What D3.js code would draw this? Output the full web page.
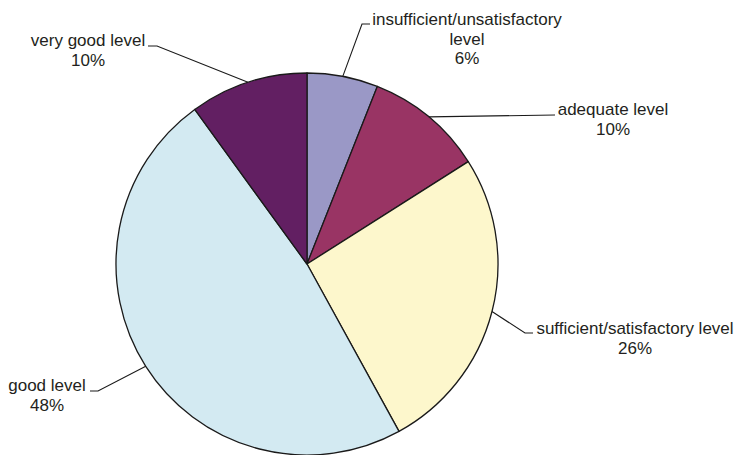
<!DOCTYPE html>
<html>
<head>
<meta charset="utf-8">
<script src="https://cdn.jsdelivr.net/npm/d3@7"></script>
<style>
  html, body { margin: 0; padding: 0; background: #fff; }
  svg { display: block; }
  text { font-family: "Liberation Sans", Arial, sans-serif; font-size: 17px; fill: #231f20; }
</style>
</head>
<body>
<svg id="chart" width="738" height="455"></svg>
<script>
// Data
const categories = ["insufficient/unsatisfactory level", "adequate level", "sufficient/satisfactory level", "good level", "very good level"];
const values = [6, 10, 26, 48, 10];
const colors = ["#9a98c6", "#993464", "#fdf7cc", "#d3eaf2", "#621f62"];
// Label text lines (as shown)
const labelLines = [
  ["insufficient/unsatisfactory", "level", "6%"],
  ["adequate level", "10%"],
  ["sufficient/satisfactory level", "26%"],
  ["good level", "48%"],
  ["very good level", "10%"]
];

// Layout (positions of label text and leader elbows)
const cx = 307, cy = 264, radius = 191;
const labelLayout = [
  { tx: 467, ty: 25, elbow: [362, 24], end: [370, 24] },
  { tx: 613, ty: 115, elbow: [555, 115], end: [555, 115] },
  { tx: 635, ty: 334, elbow: [525, 333], end: [533, 333] },
  { tx: 47,  ty: 391, elbow: [98, 391], end: [90, 391] },
  { tx: 88,  ty: 46,  elbow: [157, 46], end: [148, 46] }
];
const lineHeight = 19.5;

const svg = d3.select("#chart");
const g = svg.append("g").attr("transform", `translate(${cx},${cy})`);

const pie = d3.pie().sort(null).value(d => d.value);
const data = categories.map((c, i) => ({ category: c, value: values[i], color: colors[i], idx: i }));
const arcs = pie(data);
const arc = d3.arc().innerRadius(0).outerRadius(radius);

g.selectAll("path.slice")
  .data(arcs)
  .enter().append("path")
  .attr("class", "slice")
  .attr("d", arc)
  .attr("fill", d => d.data.color)
  .attr("stroke", "#1a1a1a")
  .attr("stroke-width", 1.3)
  .attr("stroke-linejoin", "round");

// Leader lines
const edge = d3.arc().innerRadius(radius).outerRadius(radius);
arcs.forEach((a, i) => {
  const p = edge.centroid(a);
  const L = labelLayout[i];
  const pts = [[cx + p[0], cy + p[1]], L.elbow, L.end];
  svg.append("path")
    .attr("d", d3.line()(pts))
    .attr("fill", "none")
    .attr("stroke", "#1a1a1a")
    .attr("stroke-width", 1.1);
  const t = svg.append("text")
    .attr("x", L.tx)
    .attr("y", L.ty)
    .attr("text-anchor", "middle");
  labelLines[i].forEach((ln, k) => {
    t.append("tspan")
      .attr("x", L.tx)
      .attr("y", L.ty + k * lineHeight)
      .text(ln);
  });
});
</script>
</body>
</html>
